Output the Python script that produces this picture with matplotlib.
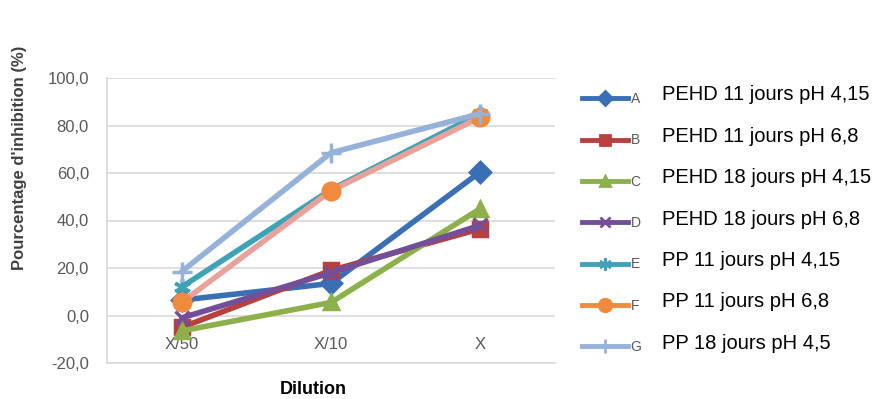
import matplotlib
matplotlib.use("Agg")
import matplotlib.pyplot as plt
from matplotlib.lines import Line2D

# données
dilutions = ["X/50", "X/10", "X"]
lettres = ["A", "B", "C", "D", "E", "F", "G"]
descriptions = ["PEHD 11 jours pH 4,15", "PEHD 11 jours pH 6,8",
                "PEHD 18 jours pH 4,15", "PEHD 18 jours pH 6,8",
                "PP 11 jours pH 4,15", "PP 11 jours pH 6,8",
                "PP 18 jours pH 4,5"]
serie_A = [6.5, 13.5, 60.5]
serie_B = [-5.0, 19.0, 36.5]
serie_C = [-6.5, 5.5, 45.0]
serie_D = [-1.0, 18.0, 38.0]
serie_E = [12.0, 53.0, 85.0]
serie_F = [5.5, 52.5, 83.5]
serie_G = [18.5, 68.5, 85.0]
series = [serie_A, serie_B, serie_C, serie_D, serie_E, serie_F, serie_G]

# styles
couleurs_ligne = ["#3A6FB5", "#B8403D", "#8DB04A", "#744F99", "#3FA3B8", "#E8A19B", "#96B2D8"]
couleurs_marq = ["#3A6FB5", "#B8403D", "#8DB04A", "#744F99", "#3FA3B8", "#F08A3C", "#96B2D8"]
marqueurs = ["D", "s", "^", "x", (6, 2, 0), "o", "+"]
tailles = [10, 10, 10, 10, 12, 12, 14]

plt.rcParams["font.family"] = ["Liberation Sans", "DejaVu Sans"]

W, H = 886, 399
fig = plt.figure(figsize=(W / 100, H / 100), dpi=100)
ax = fig.add_axes([107 / W, 1 - 363 / H, (555 - 107) / W, (363 - 78) / H])

x = list(range(len(dilutions)))
for i, vals in enumerate(series):
    ax.plot(x, vals, color=couleurs_ligne[i], linewidth=4,
            marker=marqueurs[i], markersize=tailles[i],
            markerfacecolor=couleurs_marq[i], markeredgecolor=couleurs_marq[i],
            markeredgewidth=2.5, solid_capstyle="round")

ax.set_xlim(-0.5, 2.5)
ax.set_ylim(-20, 100)
ax.set_yticks(range(-20, 101, 20))
ax.set_yticklabels([f"{v:.1f}".replace(".", ",") for v in range(-20, 101, 20)])
ax.set_xticks(x)
ax.set_xticklabels(dilutions)
ax.tick_params(axis="y", length=0, pad=13, labelsize=12, labelcolor="#595959")
ax.tick_params(axis="x", length=0, pad=-19, labelsize=12, labelcolor="#595959")
ax.grid(axis="y", color="#D9D9D9", linewidth=1.2)
ax.set_axisbelow(True)
for s in ["top", "right"]:
    ax.spines[s].set_visible(False)
ax.spines["left"].set_color("#D9D9D9")
ax.spines["bottom"].set_color("#D9D9D9")
ax.spines["left"].set_linewidth(1.2)
ax.spines["bottom"].set_linewidth(1.2)

fig.text(20 / W, 1 - 158 / H, "Pourcentage d'inhibition (%)", rotation=90,
         ha="center", va="center", fontsize=12, fontweight="bold", color="#404040")
fig.text(313 / W, 1 - 390 / H, "Dilution", ha="center", va="center",
         fontsize=13, fontweight="bold", color="black")

# légende
poignees = [Line2D([], [], color=couleurs_marq[i], linewidth=3.5, marker=marqueurs[i],
                   markersize=tailles[i] * 0.75, markerfacecolor=couleurs_marq[i],
                   markeredgecolor=couleurs_marq[i], markeredgewidth=2)
            for i in range(len(lettres))]
leg = fig.legend(poignees, lettres, loc="upper left",
                 bbox_to_anchor=(582 / W, 1 - 92 / H), frameon=False,
                 fontsize=10, handlelength=3.3, handletextpad=0.2,
                 labelspacing=1.97, borderpad=0, borderaxespad=0)
for t in leg.get_texts():
    t.set_color("#595959")

fig.canvas.draw()
for t, desc in zip(leg.get_texts(), descriptions):
    bb = t.get_window_extent()
    yc = (bb.y0 + bb.y1) / 2 / H + 4 / H
    fig.text(662 / W, yc, desc, ha="left", va="center", fontsize=14.5, color="black")

fig.savefig("out.png", dpi=100)
